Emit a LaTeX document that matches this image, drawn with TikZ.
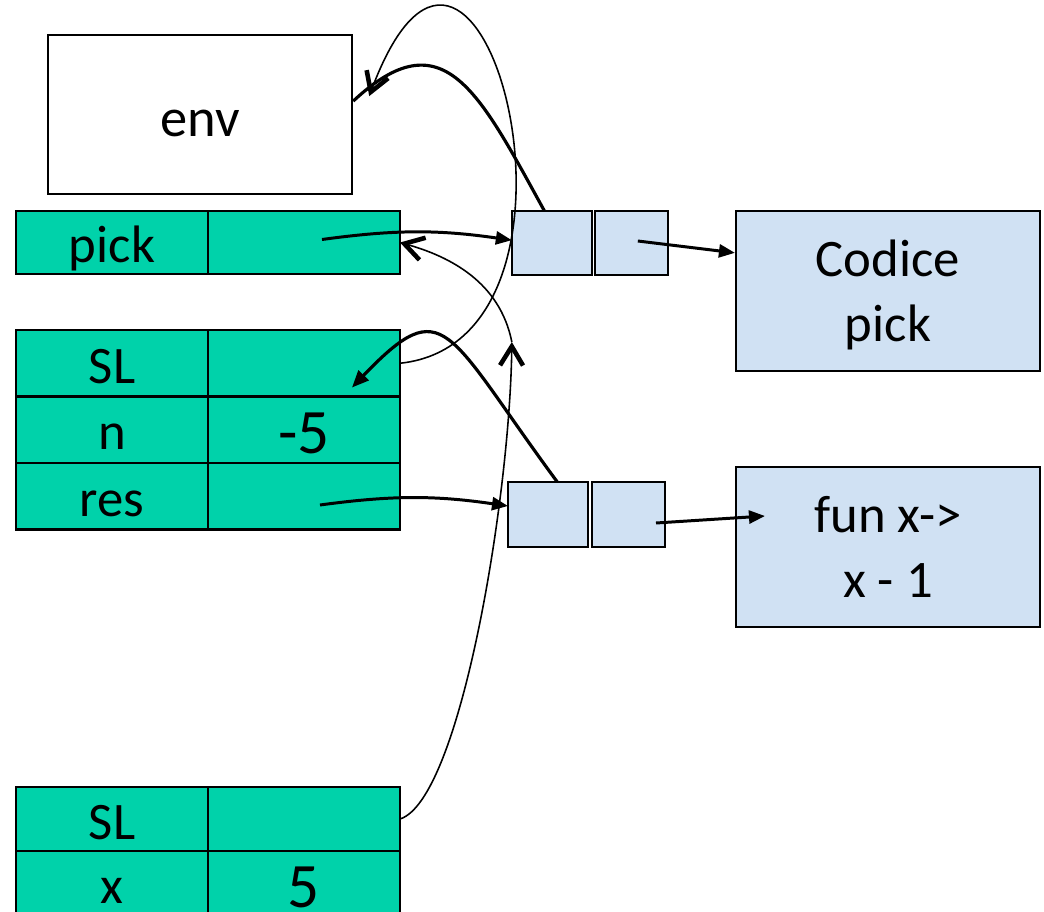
\documentclass[tikz,border=0pt]{standalone}
\usepackage{fontspec}
\setmainfont{Carlito}
\usetikzlibrary{arrows.meta,positioning,calc}
\definecolor{frameteal}{RGB}{0,210,170}
\definecolor{heapblue}{RGB}{208,225,243}
\tikzset{
  cell/.style={draw, fill=frameteal, line width=0.6pt, minimum width=1.92cm, minimum height=0.665cm,
    inner sep=0pt, outer sep=0pt, text height=11.4pt, text depth=0pt, font=\fontsize{15}{18}\selectfont},
  numcell/.style={cell, text height=13.3pt, font=\fontsize{18}{20}\selectfont},
  paircell/.style={draw, fill=heapblue, line width=0.6pt, inner sep=0pt, outer sep=0pt},
  codebox/.style={draw, fill=heapblue, line width=0.6pt, minimum width=3.04cm, minimum height=1.6cm,
    inner sep=0pt, align=center, text depth=0pt, font=\fontsize{15}{18.5}\selectfont},
  ptr/.style={line width=0.85pt, -{Triangle[length=1.6mm,width=1.3mm]}},
  slink/.style={line width=0.45pt, -{Straight Barb[length=1.9mm,width=2.3mm,line width=1.3pt]}},
}
\begin{document}
\begin{tikzpicture}
  %%%%% START %%%%%
  \useasboundingbox (0,0) rectangle (10.44,-9.12);

  \node[draw, line width=0.7pt, minimum width=3.04cm, minimum height=1.59cm, inner sep=0pt,
    text height=12.6pt, text depth=0pt, font=\fontsize{15.5}{18}\selectfont] (env) at (2, -1.145) {env};

  % frame with pick
  \node[cell, minimum height=0.63cm] (pick) at (1.12, -2.425) {pick};
  \node[cell, minimum height=0.63cm, right=0pt of pick] (pickv) {};

  % frame with SL, n, res
  \node[cell] (sl) at (1.12, -3.6325) {SL};
  \node[cell, right=0pt of sl] (slv) {};
  \node[cell, below=0pt of sl] (n) {n};
  \node[numcell, right=0pt of n] (nv) {-5};
  \node[cell, below=0pt of n] (res) {res};
  \node[cell, right=0pt of res] (resv) {};

  % frame with SL, x
  \node[cell, minimum height=0.64cm] (slb) at (1.12, -8.19) {SL};
  \node[cell, minimum height=0.64cm, right=0pt of slb] (slbv) {};
  \node[cell, minimum height=0.64cm, below=0pt of slb] (x) {x};
  \node[numcell, minimum height=0.64cm, text height=14pt, right=0pt of x] (xv) {5};

  % closures
  \node[paircell, minimum width=0.80cm, minimum height=0.64cm] (p1a) at (5.5185, -2.43) {};
  \node[paircell, minimum width=0.73cm, minimum height=0.64cm, right=0.03cm of p1a] (p1b) {};
  \node[paircell, minimum width=0.80cm, minimum height=0.65cm] (p2a) at (5.48, -5.145) {};
  \node[paircell, minimum width=0.73cm, minimum height=0.65cm, right=0.04cm of p2a] (p2b) {};

  \node[codebox] (code1) at (8.88, -2.91) {Codice\\pick};
  \node[codebox] (code2) at (8.88, -5.47) {fun x->\\x - 1};

  % pointers
  \draw[ptr] ($(pickv.center)+(0.18,0.03)$) to[bend left=8] (p1a.176);
  \draw[ptr] ($(resv.center)+(0.16,-0.0875)$) to[bend left=8] (p2a.168);
  \draw[ptr] ($(p1b.center)+(0.065,0.02)$) -- (code1.166);
  \draw[ptr] ($(p2b.center)+(0.275,-0.085)$) -- ($(code2.west)+(0.30,0.31)$);

  \draw[line width=0.9pt] (p1a.103) .. controls +(-0.66,1.2) and +(0.9,0.84) .. (env.5);
  \draw[line width=0.9pt, -{Triangle[length=1.7mm,width=1.4mm]}] (p2a.74)
    .. controls +(-1.12,1.52) and +(0.93,0.97) .. ($(slv.south east)+(-0.48,0.09)$);

  % static links
  \coordinate (mid) at ($(p1a.south west)+(0,-0.67)$);
  \draw[slink] (slv.east) .. controls +(2.2,0.23) and +(1.1,2.95) .. ($(env.5)+(0.16,0.05)$);
  \draw[slink] (slbv.east) .. controls +(0.6,0.19) and +(-0.02,-1.58) .. (mid);
  \draw[slink] (mid) .. controls +(-0.12,0.6) and +(0.5,-0.14) .. (pickv.east);

  %%%%% END %%%%%
\end{tikzpicture}
\end{document}
